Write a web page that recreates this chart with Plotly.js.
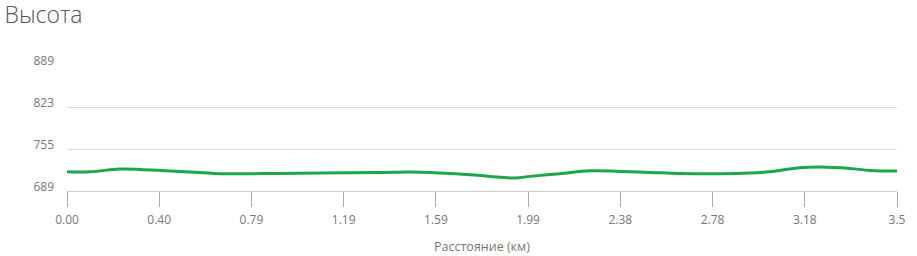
<!DOCTYPE html>
<html>
<head>
<meta charset="utf-8">
<script src="https://cdn.plot.ly/plotly-3.0.1.min.js"></script>
<style>html,body{margin:0;padding:0;background:#fff;}#chart{width:917px;height:256px;}</style>
</head>
<body>
<div id="chart"></div>
<script>
const distanceKm = [0, 0.099, 0.228, 0.315, 0.444, 0.573, 0.659, 0.789, 0.905, 1.090, 1.349, 1.478, 1.608, 1.737, 1.823, 1.931, 1.996, 2.125, 2.254, 2.384, 2.513, 2.642, 2.815, 2.944, 3.030, 3.159, 3.246, 3.375, 3.461, 3.578];
const elevationM = [719.6, 719.6, 723.9, 723.3, 720.7, 718.5, 716.5, 716.5, 716.9, 717.6, 718.5, 719.2, 717.6, 714.9, 712.2, 709.6, 712.2, 716.5, 721.2, 720.1, 718.5, 716.9, 716.5, 717.6, 719.6, 726.0, 727.1, 724.9, 721.7, 720.7];
const xTickVals = [0, 0.3975, 0.795, 1.1925, 1.59, 1.9875, 2.385, 2.7825, 3.18, 3.5775];
const xTickText = ['0.00', '0.40', '0.79', '1.19', '1.59', '1.99', '2.38', '2.78', '3.18', '3.5'];
const yTickVals = [689, 755.667, 822.333, 889];
const yTickText = ['689', '755', '823', '889'];

const trace = {
  x: distanceKm, y: elevationM, type: 'scatter', mode: 'lines',
  line: {color: '#1ca64c', width: 3, shape: 'spline', smoothing: 1},
  hoverinfo: 'skip'
};
const layout = {
  width: 917, height: 256,
  margin: {l: 67, r: 20, t: 65, b: 65},
  paper_bgcolor: '#fff', plot_bgcolor: '#fff',
  font: {family: '"Open Sans", sans-serif', color: '#777', size: 12},
  showlegend: false,
  title: {text: 'Высота', xref: 'container', yref: 'container', x: 0.005, xanchor: 'left', y: 0.943, yanchor: 'middle',
          font: {family: '"Open Sans", sans-serif', size: 23, color: '#555', weight: 300}},
  xaxis: {
    range: [0, 3.5775], tickmode: 'array', tickvals: xTickVals, ticktext: xTickText,
    showgrid: false, zeroline: false, showline: true, linecolor: '#ccc', linewidth: 1,
    ticks: 'outside', ticklen: 15, tickcolor: '#aaa', tickwidth: 1,
    tickfont: {size: 12, color: '#777'}, ticklabelstandoff: 3,
    title: {text: 'Расстояние (км)', font: {size: 12.5, color: '#777'}, standoff: 14}
  },
  yaxis: {
    range: [689, 889], tickmode: 'array', tickvals: yTickVals, ticktext: yTickText,
    showgrid: true, gridcolor: '#ddd', gridwidth: 1, zeroline: false, showline: false,
    ticks: '', tickfont: {size: 12, color: '#777'}, ticklabelstandoff: 12, ticklabelshift: -4
  }
};
Plotly.newPlot('chart', [trace], layout, {staticPlot: true, displayModeBar: false});
</script>
</body>
</html>
